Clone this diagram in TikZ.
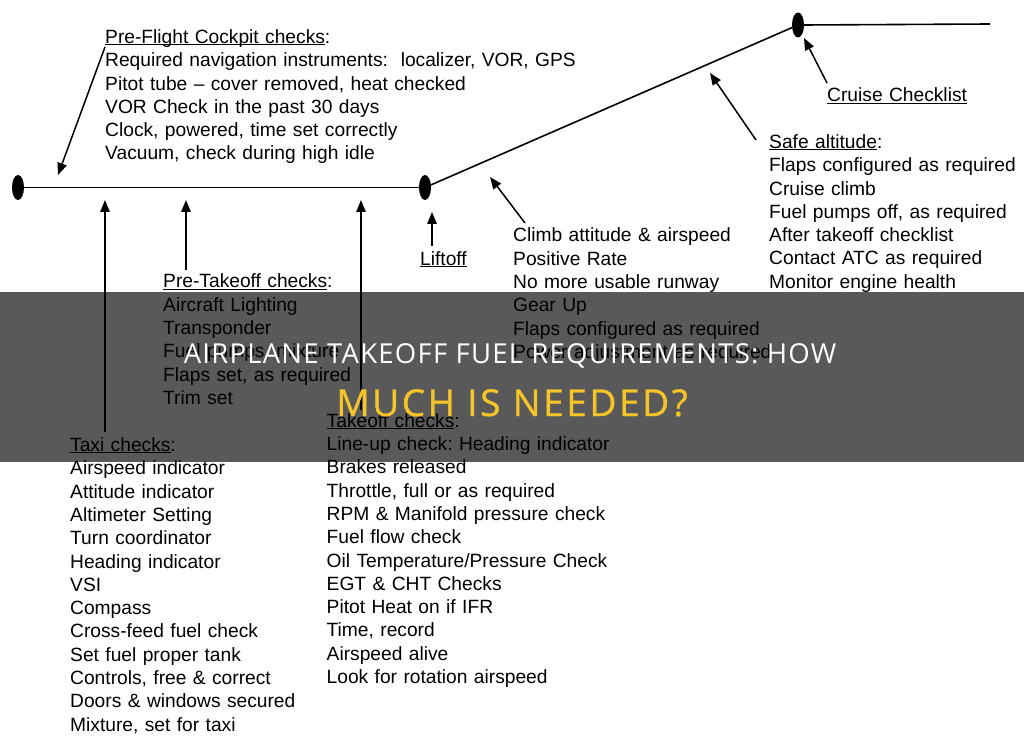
\documentclass[tikz,border=0pt]{standalone}
\usepackage{fontspec}
\setmainfont{Liberation Sans}
\newfontfamily\titleA[LetterSpace=4.5]{Open Sans}
\newfontfamily\titleB[LetterSpace=7,FakeBold=0.8]{Open Sans}
\usetikzlibrary{arrows.meta,shapes.geometric}
\definecolor{titleyellow}{RGB}{245,196,40}
\newcommand{\myul}[1]{\setbox0\hbox{#1}\rlap{\rule[-1.8pt]{\wd0}{1pt}}\box0}
\frenchspacing
\begin{document}
\begin{tikzpicture}[x=1pt,y=-1pt,
  txt/.style={inner sep=0pt, anchor=base west, align=left, text width=#1,
              font=\fontsize{19.2}{23.3}\selectfont},
  txt/.default=260pt,
  dot/.style={ellipse, fill=black, inner sep=0pt, minimum width=12pt, minimum height=25pt},
  path/.style={line width=1.6pt},
  pointer/.style={line width=1.5pt, -{Triangle[length=12pt,width=9.5pt]}},
  band/.style={fill=black, opacity=0.65},
  titleone/.style={inner sep=0pt, anchor=base, text=white, font=\titleA\fontsize{27.5}{32}\selectfont},
  titletwo/.style={inner sep=0pt, anchor=base, text=titleyellow, font=\titleB\fontsize{37}{42}\selectfont}]

\useasboundingbox (0,0) rectangle (1024,743);
\fill[white] (0,0) rectangle (1024,743);

% timeline
\node[dot] (start) at (18,187.5) {};
\node[dot] (lift) at (425,187.5) {};
\node[dot] (cruise) at (798,25) {};
\coordinate (cruiseend) at (990,24);
\draw[path] (start) -- (lift);
\draw[path] (lift) -- (cruise);
\draw[path] (cruise.east) -- (cruiseend);

% text blocks
\node[txt=480pt] (preflight) at (105,43.5) {\myul{Pre-Flight Cockpit checks}:\\
Required navigation instruments:\ \ localizer, VOR, GPS\\
Pitot tube -- cover removed, heat checked\\
VOR Check in the past 30 days\\
Clock, powered, time set correctly\\
Vacuum, check during high idle};

\node[txt=200pt] (pretakeoff) at (163,287.8) {\myul{Pre-Takeoff checks}:\\
Aircraft Lighting\\
Transponder\\
Fuel pumps, mixture\\
Flaps set, as required\\
Trim set};

\node[txt=270pt] (climb) at (513,241.8) {Climb attitude \& airspeed\\
Positive Rate\\
No more usable runway\\
Gear Up\\
Flaps configured as required\\
Power adjustment as required};

\node[txt=60pt] (liftoff) at (420,265.3) {\myul{Liftoff}};

\node[txt=255pt] (safe) at (769,148.5) {\myul{Safe altitude}:\\
Flaps configured as required\\
Cruise climb\\
Fuel pumps off, as required\\
After takeoff checklist\\
Contact ATC as required\\
Monitor engine health};

\node[txt=160pt] (cruisecl) at (827,102) {\myul{Cruise Checklist}};

\node[txt=300pt] (takeoff) at (326.5,427.2) {\myul{Takeoff checks}:\\
Line-up check: Heading indicator\\
Brakes released\\
Throttle, full or as required\\
RPM \& Manifold pressure check\\
Fuel flow check\\
Oil Temperature/Pressure Check\\
EGT \& CHT Checks\\
Pitot Heat on if IFR\\
Time, record\\
Airspeed alive\\
Look for rotation airspeed};

\node[txt=240pt] (taxi) at (70,451.5) {\myul{Taxi checks}:\\
Airspeed indicator\\
Attitude indicator\\
Altimeter Setting\\
Turn coordinator\\
Heading indicator\\
VSI\\
Compass\\
Cross-feed fuel check\\
Set fuel proper tank\\
Controls, free \& correct\\
Doors \& windows secured\\
Mixture, set for taxi};

% pointers
\coordinate (pfA) at (105,47);   \coordinate (pfB) at (58,175);
\coordinate (txA) at (105,432);  \coordinate (txB) at (105,200);
\coordinate (ptA) at (186,270);  \coordinate (ptB) at (186,200);
\coordinate (toA) at (361,410);  \coordinate (toB) at (361,200);
\coordinate (loA) at (432,246);  \coordinate (loB) at (432,212);
\coordinate (clA) at (525,223);  \coordinate (clB) at (490,177);
\coordinate (saA) at (756,140);  \coordinate (saB) at (710,73);
\coordinate (crA) at (827,83);   \coordinate (crB) at (804,38);
\draw[pointer] (pfA) -- (pfB);
\draw[pointer] (txA) -- (txB);
\draw[pointer] (ptA) -- (ptB);
\draw[pointer] (toA) -- (toB);
\draw[pointer] (loA) -- (loB);
\draw[pointer] (clA) -- (clB);
\draw[pointer] (saA) -- (saB);
\draw[pointer] (crA) -- (crB);

% overlay band and title
\fill[band] (0,292) rectangle (1024,462);
\node[titleone] (title1) at (510,363) {AIRPLANE TAKEOFF FUEL REQUIREMENTS: HOW};
\node[titletwo] (title2) at (512,416) {MUCH IS NEEDED?};
\end{tikzpicture}
\end{document}
